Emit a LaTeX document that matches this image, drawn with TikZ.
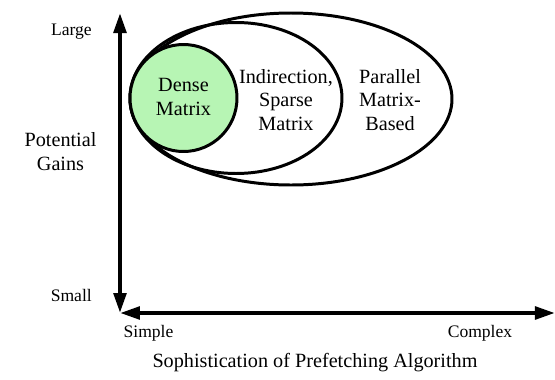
\documentclass[tikz,border=0pt]{standalone}
\usepackage{fontspec}
\setmainfont{Liberation Serif}
\usetikzlibrary{arrows.meta, positioning}
\definecolor{densegreen}{RGB}{183,245,180}

\begin{document}
\begin{tikzpicture}[
    axis/.style={line width=2.3pt, {Triangle[length=0.4cm,width=0.25cm]}-{Triangle[length=0.4cm,width=0.25cm]}},
    blob/.style={line width=1.7pt},
    big/.style={align=center, font=\fontsize{11.5}{13.2}\selectfont},
    small/.style={font=\fontsize{10}{12}\selectfont}
  ]
      \useasboundingbox (-2.4,-1.32) rectangle (8.7,6.26);
      % the three nested regions, all touching on the left
      \draw[blob] (3.42,4.28) ellipse (3.22 and 1.72);
      \draw[blob] (2.32,4.3) ellipse (2.12 and 1.51);
      \draw[blob, fill=densegreen] (1.27,4.3) circle (1.07);
      \node[big] (dense) at (1.27,4.32) {Dense\\Matrix};
      \node[big] (sparse) at (3.32,4.26) {Indirection,\\Sparse\\Matrix};
      \node[big] (parallel) at (5.4,4.26) {Parallel\\Matrix-\\Based};
      % axes
      \coordinate (origin) at (0,0);
      \coordinate (ytop) at (0,6.0);
      \coordinate (xend) at (8.7,0);
      \draw[axis] (origin) -- (ytop);
      \draw[axis] (origin) -- (xend);
      \node[small, anchor=east] (large) at (-0.44,5.62) {Large};
      \node[small, anchor=east] (small) at (-0.44,0.36) {Small};
      \node[big] (gains) at (-1.19,3.23) {Potential\\Gains};
      \node[small] (simple) at (0.57,-0.4) {Simple};
      \node[small] (complex) at (7.2,-0.4) {Complex};
      \node[big] (soph) at (3.9,-1.0) {Sophistication of Prefetching Algorithm};
\end{tikzpicture}
\end{document}
